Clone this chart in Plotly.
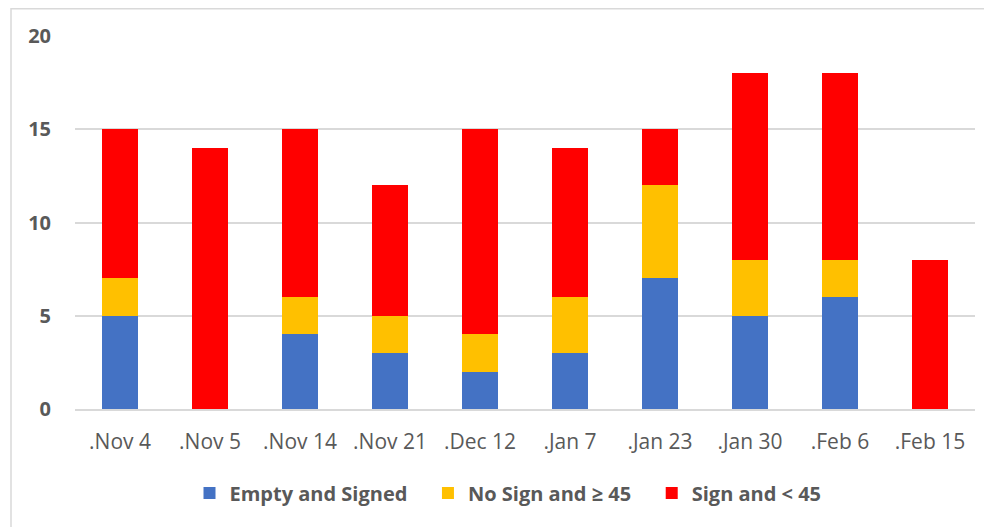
import plotly.graph_objects as go

categories = [".Nov 4", ".Nov 5", ".Nov 14", ".Nov 21", ".Dec 12", ".Jan 7", ".Jan 23", ".Jan 30", ".Feb 6", ".Feb 15"]
empty_signed = [5, 0, 4, 3, 2, 3, 7, 5, 6, 0]
no_sign_ge45 = [2, 0, 2, 2, 2, 3, 5, 3, 2, 0]
sign_lt45 = [8, 14, 9, 7, 11, 8, 3, 10, 10, 8]

series = [
    ("Empty and Signed", empty_signed, "#4472C4"),
    ("No Sign and ≥ 45", no_sign_ge45, "#FFC000"),
    ("Sign and < 45", sign_lt45, "#FF0000"),
]

fig = go.Figure()
for name, vals, col in series:
    fig.add_trace(go.Bar(x=categories, y=vals, name=name + "   ", marker_color=col,
                         marker_line_width=0, width=0.4))

# page body has an 8px margin, so the figure is shifted by (8, 8)
fig.update_layout(
    barmode="stack",
    width=992, height=527,
    margin=dict(l=67, r=25, t=28, b=126, autoexpand=False),
    plot_bgcolor="white", paper_bgcolor="white",
    font=dict(family="Open Sans, Liberation Sans, sans-serif", color="#595959"),
    showlegend=True,
    legend=dict(orientation="h", x=0.49, xanchor="center", y=-0.225, yanchor="middle",
                font=dict(size=20, color="#595959", family="Open Sans, sans-serif", weight="bold"),
                traceorder="normal", itemsizing="constant"),
    shapes=[dict(type="rect", xref="paper", yref="paper", x0=-0.0711, x1=1.2, y0=-0.5, y1=1.073,
                 line=dict(color="#D9D9D9", width=1.5), layer="below")],
)
fig.update_xaxes(showgrid=False, showline=True, linecolor="#D9D9D9", linewidth=1.5,
                 tickfont=dict(size=21, color="#595959"), ticks="", ticklabelstandoff=13,
                 automargin=False)
fig.update_yaxes(range=[0, 20], dtick=5, showgrid=True, gridcolor="#D9D9D9", gridwidth=1.5,
                 zeroline=False, showline=False,
                 tickfont=dict(size=20, color="#595959", weight="bold"), ticks="",
                 ticklabelstandoff=23, automargin=False)

fig.write_html("out.html")
